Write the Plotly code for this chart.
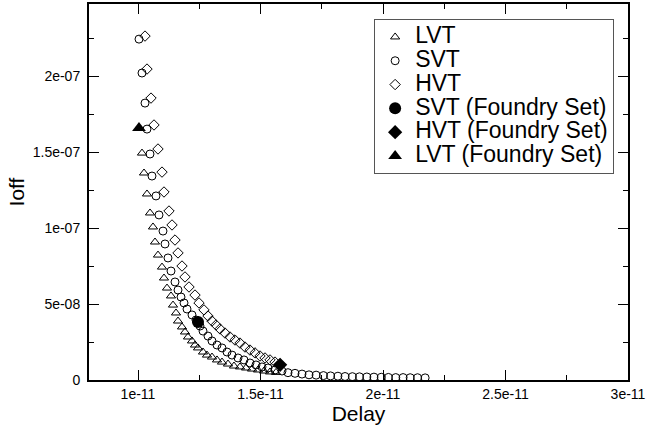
import plotly.graph_objects as go

# values (delay in 1e-11 s, Ioff in 1e-8 A)
lvt_delay = [1.0041, 1.0163, 1.0245, 1.0367, 1.0490, 1.0612, 1.0694, 1.0816, 1.0980, 1.1061,
             1.1184, 1.1347, 1.1429, 1.1551, 1.1633, 1.1796, 1.1918, 1.2041, 1.2204, 1.2327,
             1.2449, 1.2653, 1.2816, 1.3020, 1.3224, 1.3429, 1.3673, 1.3918, 1.4163, 1.4408,
             1.4653, 1.4898, 1.5143, 1.5388, 1.5633]
lvt_ioff = [16.58, 14.93, 13.62, 12.24, 10.99, 10.07, 9.08, 8.22, 7.43, 6.71,
            6.05, 5.53, 4.93, 4.41, 3.88, 3.49, 3.16, 2.83, 2.57, 2.30,
            2.11, 1.84, 1.64, 1.51, 1.32, 1.18, 1.05, 0.92, 0.86, 0.79,
            0.72, 0.66, 0.59, 0.53, 0.50]

svt_delay = [1.0041, 1.0163, 1.0286, 1.0367, 1.0490, 1.0571, 1.0735, 1.0857, 1.1020, 1.1102,
             1.1224, 1.1347, 1.1510, 1.1633, 1.1755, 1.1878, 1.2000, 1.2204, 1.2367, 1.2531,
             1.2653, 1.2857, 1.3020, 1.3224, 1.3429, 1.3633, 1.3837, 1.4082, 1.4327, 1.4571,
             1.4816, 1.5061, 1.5306, 1.5592, 1.5878, 1.6122, 1.6408, 1.6694, 1.6980, 1.7270,
             1.7570, 1.7860, 1.8160, 1.8450, 1.8750, 1.9040, 1.9340, 1.9630, 1.9930, 2.0220,
             2.0520, 2.0820, 2.1110, 2.1410, 2.1720]
svt_ioff = [22.43, 20.20, 18.22, 16.51, 14.87, 13.42, 12.11, 10.86, 9.80, 8.95,
            8.03, 7.17, 6.45, 5.92, 5.46, 5.07, 4.67, 4.28, 3.95, 3.55,
            3.22, 2.89, 2.57, 2.30, 2.11, 1.84, 1.64, 1.45, 1.32, 1.12,
            0.99, 0.86, 0.79, 0.66, 0.59, 0.48, 0.44, 0.39, 0.34, 0.32,
            0.29, 0.27, 0.25, 0.23, 0.22, 0.21, 0.20, 0.19, 0.18, 0.17,
            0.16, 0.16, 0.15, 0.15, 0.14]

hvt_delay = [1.0286, 1.0367, 1.0531, 1.0653, 1.0816, 1.0980, 1.1061, 1.1265, 1.1388, 1.1510,
             1.1633, 1.1796, 1.1918, 1.2082, 1.2327, 1.2490, 1.2694, 1.2857, 1.3020, 1.3184,
             1.3347, 1.3551, 1.3755, 1.3959, 1.4163, 1.4367, 1.4571, 1.4776, 1.4980, 1.5184,
             1.5388, 1.5592, 1.5796]
hvt_ioff = [22.63, 20.46, 18.55, 16.78, 15.20, 13.68, 12.37, 11.12, 10.20, 9.21,
            8.36, 7.50, 6.78, 6.12, 5.59, 5.07, 4.61, 4.21, 3.88, 3.62,
            3.36, 3.09, 2.83, 2.63, 2.43, 2.17, 1.97, 1.78, 1.58, 1.45,
            1.32, 1.18, 1.05]

foundry_svt = (1.245, 3.82)
foundry_hvt = (1.580, 1.00)
foundry_lvt = (1.004, 16.58)

x_ticks = [1e-11, 1.5e-11, 2e-11, 2.5e-11, 3e-11]
x_labels = ["1e-11", "1.5e-11", "2e-11", "2.5e-11", "3e-11"]
y_ticks = [0, 5e-8, 1e-7, 1.5e-7, 2e-7]
y_labels = ["0", "5e-08", "1e-07", "1.5e-07", "2e-07"]

XS, YS = 1e-11, 1e-8


def legend_name(text):
    # bigger text inside a legend with tighter rows
    return '<span style="font-size:23px">' + text + '</span>'


fig = go.Figure()
open_marker = dict(color="black", size=8, line=dict(color="black", width=1))
fig.add_trace(go.Scatter(x=[v * XS for v in lvt_delay], y=[v * YS for v in lvt_ioff],
                         mode="markers", name=legend_name("LVT"),
                         marker=dict(symbol="triangle-up-open", **open_marker)))
fig.add_trace(go.Scatter(x=[v * XS for v in svt_delay], y=[v * YS for v in svt_ioff],
                         mode="markers", name=legend_name("SVT"),
                         marker=dict(symbol="circle-open", **open_marker)))
fig.add_trace(go.Scatter(x=[v * XS for v in hvt_delay], y=[v * YS for v in hvt_ioff],
                         mode="markers", name=legend_name("HVT"),
                         marker=dict(symbol="diamond-open", **open_marker)))
fig.add_trace(go.Scatter(x=[foundry_svt[0] * XS], y=[foundry_svt[1] * YS],
                         mode="markers", name=legend_name("SVT (Foundry Set)"),
                         marker=dict(symbol="circle", color="black", size=12)))
fig.add_trace(go.Scatter(x=[foundry_hvt[0] * XS], y=[foundry_hvt[1] * YS],
                         mode="markers", name=legend_name("HVT (Foundry Set)"),
                         marker=dict(symbol="diamond", color="black", size=11)))
fig.add_trace(go.Scatter(x=[foundry_lvt[0] * XS], y=[foundry_lvt[1] * YS],
                         mode="markers", name=legend_name("LVT (Foundry Set)"),
                         marker=dict(symbol="triangle-up", color="black", size=12)))

axis_common = dict(showgrid=False, zeroline=False, showline=True, linecolor="black", linewidth=2,
                   mirror="allticks", ticks="inside", ticklen=10, tickwidth=1, tickcolor="black",
                   tickfont=dict(size=14, color="black"), automargin=False)
fig.update_xaxes(range=[0.8e-11, 3e-11], tickvals=x_ticks, ticktext=x_labels,
                 minor=dict(ticks="inside", ticklen=5, dtick=0.25e-11, tick0=0, tickcolor="black"),
                 title=dict(text="Delay", font=dict(size=21, color="black"), standoff=0),
                 **axis_common)
fig.update_yaxes(range=[0, 2.474e-7], tickvals=y_ticks, ticktext=y_labels, ticklabelstandoff=4,
                 minor=dict(ticks="inside", ticklen=5, dtick=2.5e-8, tick0=0, tickcolor="black"),
                 title=dict(text="Ioff", font=dict(size=21, color="black"), standoff=2),
                 **axis_common)
fig.update_layout(
    width=647, height=425,
    margin=dict(l=89, r=19, t=4, b=45),
    paper_bgcolor="white", plot_bgcolor="white",
    font=dict(family="Liberation Sans, Arial, sans-serif", color="black"),
    showlegend=True,
    legend=dict(x=0.529, y=0.96, xanchor="left", yanchor="top",
                bgcolor="white", bordercolor="#555555", borderwidth=1,
                font=dict(size=16, color="black"), tracegroupgap=0,
                itemsizing="trace"),
)

# page body has a default 8px margin; drop it so the figure sits at the corner
fig.write_html("out.html", config={"displayModeBar": False},
               post_script="document.body.style.margin='0';")
